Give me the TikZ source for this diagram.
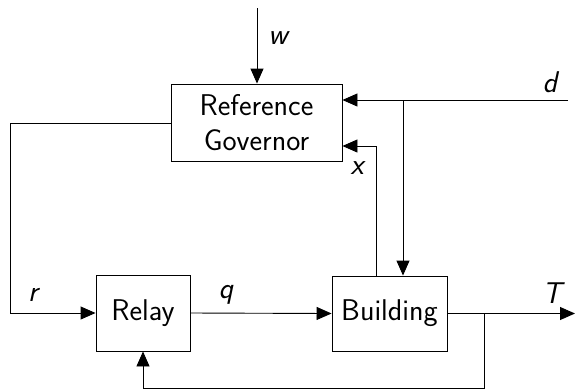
\documentclass[tikz,border=0pt]{standalone}
\usetikzlibrary{arrows.meta}
\begin{document}
\begin{tikzpicture}[x=1pt,y=-1pt,
  line width=0.9pt,
  every node/.style={font=\fontsize{30}{35}\selectfont\sffamily},
  blk/.style={draw, align=center, inner sep=0pt},
  arr/.style={-{Triangle[length=15pt,width=13pt]}},
  sig/.style={font=\fontsize{30}{35}\selectfont\sffamily\itshape, inner sep=0pt}]
\useasboundingbox (0,0) rectangle (575,389);

% blocks
\node[blk, minimum width=171pt, minimum height=77pt] (rg) at (256.5,122.5) {Reference\\Governor};
\node[blk, minimum width=94pt, minimum height=76pt] (re) at (143,313) {Relay};
\node[blk, minimum width=115pt, minimum height=75pt] (bd) at (389.5,313.5) {Building};

% free ends and corners
\coordinate (wtop) at (257,8);
\coordinate (din) at (568,100);
\coordinate (db) at (403,100);
\coordinate (xc) at (376,146);
\coordinate (rl) at (10,123);
\coordinate (tend) at (575,313.5);
\coordinate (fb) at (484,388);

% connectors
\draw[arr] (wtop) -- (wtop |- rg.north);
\draw[arr] (din) -- (din -| rg.east);
\draw[arr] (db) -- (db |- bd.north);
\draw[arr] (xc |- bd.north) -- (xc) -- (xc -| rg.east);
\draw[arr] (rg.west |- rl) -- (rl) -- (rl |- re.west) -- (re.west);
\draw[arr] (re.east) -- (bd.west);
\draw[arr] (bd.east) -- (tend);
\draw[arr] (fb |- bd.east) -- (fb) -- (fb -| re.south) -- (re.south);

% signal labels
\node[sig] (lw) at (278,38) {w};
\node[sig] (ld) at (550,82) {d};
\node[sig] (lx) at (357,168) {x};
\node[sig] (lr) at (33,295) {r};
\node[sig] (lq) at (226,295) {q};
\node[sig] (lT) at (552,293) {T};
\end{tikzpicture}
\end{document}
